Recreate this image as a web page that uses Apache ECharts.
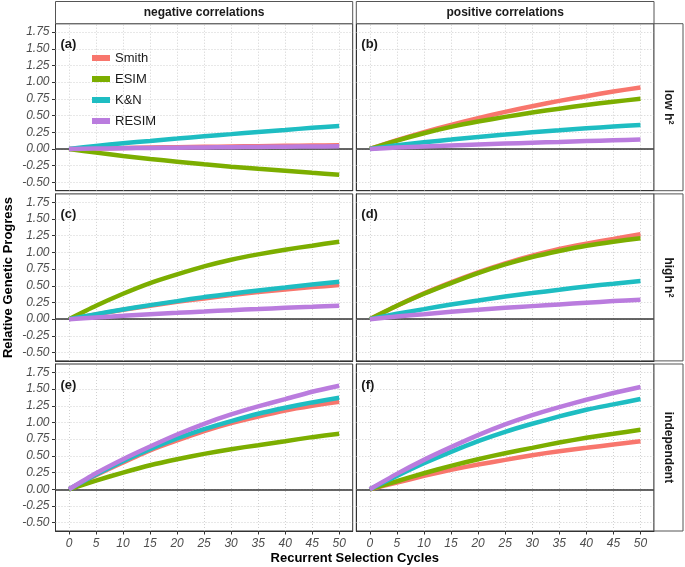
<!DOCTYPE html>
<html>
<head>
<meta charset="utf-8">
<script src="https://cdn.jsdelivr.net/npm/echarts@6/dist/echarts.min.js"></script>
<style>html,body{margin:0;padding:0;background:#fff}#c{width:685px;height:567px}</style>
</head>
<body>
<div id="c"></div>
<script>
// ---------- data ----------
const cycles = [0, 5, 10, 15, 20, 25, 30, 35, 40, 45, 50];
const methods = ['Smith', 'ESIM', 'K&N', 'RESIM'];
const colors = ['#F8766D', '#7CAE00', '#1EBDC2', '#BA7CDE'];
const panelLabels = ['(a)', '(b)', '(c)', '(d)', '(e)', '(f)'];
const colStrips = ['negative correlations', 'positive correlations'];
const rowStrips = ['low h\u00B2', 'high h\u00B2', 'independent'];
const xTicks = [0, 5, 10, 15, 20, 25, 30, 35, 40, 45, 50];
const yTicks = [-0.5, -0.25, 0, 0.25, 0.5, 0.75, 1, 1.25, 1.5, 1.75];

// (a) negative correlations, low h2
const a_smith = [0, 0.008, 0.015, 0.021, 0.027, 0.032, 0.037, 0.042, 0.047, 0.051, 0.055];
const a_esim  = [0, -0.055, -0.105, -0.15, -0.19, -0.23, -0.265, -0.297, -0.327, -0.357, -0.385];
const a_kn    = [0, 0.045, 0.085, 0.12, 0.155, 0.19, 0.222, 0.255, 0.285, 0.316, 0.345];
const a_resim = [0, 0.005, 0.01, 0.015, 0.019, 0.023, 0.027, 0.031, 0.034, 0.037, 0.04];
// (b) positive correlations, low h2
const b_smith = [0, 0.13, 0.25, 0.36, 0.46, 0.555, 0.64, 0.72, 0.79, 0.86, 0.92];
const b_esim  = [0, 0.125, 0.235, 0.33, 0.41, 0.48, 0.545, 0.603, 0.658, 0.707, 0.75];
const b_kn    = [0, 0.055, 0.1, 0.14, 0.18, 0.215, 0.25, 0.28, 0.31, 0.335, 0.36];
const b_resim = [0, 0.02, 0.035, 0.05, 0.065, 0.08, 0.093, 0.105, 0.118, 0.13, 0.14];
// (c) negative correlations, high h2
const c_smith = [0, 0.07, 0.14, 0.2, 0.26, 0.31, 0.36, 0.405, 0.445, 0.48, 0.51];
const c_esim  = [0, 0.2, 0.38, 0.54, 0.67, 0.79, 0.89, 0.97, 1.04, 1.1, 1.16];
const c_kn    = [0, 0.075, 0.145, 0.21, 0.27, 0.33, 0.38, 0.43, 0.475, 0.52, 0.56];
const c_resim = [0, 0.025, 0.05, 0.075, 0.095, 0.115, 0.135, 0.152, 0.17, 0.185, 0.2];
// (d) positive correlations, high h2
const d_smith = [0, 0.2, 0.385, 0.55, 0.7, 0.835, 0.95, 1.05, 1.13, 1.2, 1.27];
const d_esim  = [0, 0.2, 0.38, 0.54, 0.69, 0.82, 0.93, 1.02, 1.1, 1.16, 1.21];
const d_kn    = [0, 0.08, 0.15, 0.22, 0.28, 0.34, 0.39, 0.44, 0.49, 0.53, 0.57];
const d_resim = [0, 0.04, 0.075, 0.11, 0.14, 0.17, 0.195, 0.22, 0.245, 0.27, 0.29];
// (e) negative correlations, independent
const e_smith = [0, 0.21, 0.4, 0.58, 0.73, 0.87, 0.99, 1.09, 1.18, 1.25, 1.31];
const e_esim  = [0, 0.13, 0.25, 0.36, 0.45, 0.53, 0.6, 0.66, 0.72, 0.78, 0.83];
const e_kn    = [0, 0.22, 0.42, 0.6, 0.76, 0.9, 1.02, 1.13, 1.22, 1.3, 1.37];
const e_resim = [0, 0.24, 0.45, 0.64, 0.82, 0.98, 1.12, 1.24, 1.35, 1.46, 1.55];
// (f) positive correlations, independent
const f_smith = [0, 0.1, 0.2, 0.29, 0.37, 0.44, 0.51, 0.57, 0.62, 0.67, 0.72];
const f_esim  = [0, 0.12, 0.24, 0.35, 0.45, 0.54, 0.62, 0.7, 0.77, 0.83, 0.89];
const f_kn    = [0, 0.2, 0.39, 0.56, 0.72, 0.86, 0.98, 1.09, 1.19, 1.27, 1.35];
const f_resim = [0, 0.23, 0.44, 0.63, 0.81, 0.97, 1.11, 1.23, 1.34, 1.44, 1.53];

const panels = [
  [a_smith, a_esim, a_kn, a_resim],
  [b_smith, b_esim, b_kn, b_resim],
  [c_smith, c_esim, c_kn, c_resim],
  [d_smith, d_esim, d_kn, d_resim],
  [e_smith, e_esim, e_kn, e_resim],
  [f_smith, f_esim, f_kn, f_resim]
];

// ---------- layout ----------
const FONT = '"Liberation Sans", Arial, Helvetica, sans-serif';
const colLeft = [55.5, 356.3];
const colWidth = [297.2, 297.7];
const rowTop = [23.7, 193.9, 364];
const rowHeight = 167;
const stripTop = 1.5;
const rightStripX = 654, rightStripW = 29;

const grids = [], xAxes = [], yAxes = [], series = [], graphics = [];

for (let p = 0; p < 6; p++) {
  const r = Math.floor(p / 2), c = p % 2;
  grids.push({
    left: colLeft[c], top: rowTop[r], width: colWidth[c], height: rowHeight,
    show: true, borderColor: '#333', borderWidth: 1, backgroundColor: '#fff'
  });
  const bottom = r === 2, left = c === 0;
  xAxes.push({
    type: 'value', gridIndex: p, min: -2.5, max: 52.5, position: 'bottom',
    axisLine: { show: true, onZero: false, lineStyle: { color: '#333', width: 1 } },
    splitLine: { show: false },
    axisTick: { show: bottom, customValues: xTicks, length: 3.5, lineStyle: { color: '#333' } },
    axisLabel: { show: bottom, customValues: xTicks, margin: 7, fontStyle: 'italic',
      fontSize: 12, color: '#4d4d4d', fontFamily: FONT }
  });
  yAxes.push({
    type: 'value', gridIndex: p, min: -0.625, max: 1.875, position: 'left',
    axisLine: { show: true, onZero: false, lineStyle: { color: '#333', width: 1 } },
    splitLine: { show: false },
    axisTick: { show: left, customValues: yTicks, length: 3.5, lineStyle: { color: '#333' } },
    axisLabel: { show: left, customValues: yTicks, margin: 6, fontStyle: 'italic',
      fontSize: 12, color: '#4d4d4d', fontFamily: FONT,
      formatter: v => v.toFixed(2) }
  });
  // gridlines & zero line
  series.push({
    type: 'line', xAxisIndex: p, yAxisIndex: p, data: [], silent: true, z: 1,
    markLine: {
      silent: true, symbol: 'none', z: 1, animation: false,
      label: { show: false },
      lineStyle: { type: [1, 2], color: '#c4c4c4', width: 0.8 },
      data: xTicks.map(v => ({ xAxis: v })).concat(yTicks.map(v => ({ yAxis: v })))
        .concat([{ yAxis: 0, lineStyle: { type: 'solid', color: '#333', width: 1.5 } }])
    }
  });
  panels[p].forEach((vals, k) => {
    series.push({
      name: methods[k], type: 'line', xAxisIndex: p, yAxisIndex: p, z: 3,
      data: cycles.map((x, i) => [x, vals[i]]),
      showSymbol: false, symbol: 'none', smooth: 0.25,
      itemStyle: { color: colors[k] },
      lineStyle: { color: colors[k], width: 4.5 },
      animation: false
    });
  });
  graphics.push({
    type: 'text', left: colLeft[c] + 5, top: rowTop[r] + 14.5,
    style: { text: panelLabels[p], font: 'bold 13px ' + FONT, fill: '#1a1a1a' }, z: 10
  });
}

// column strips
for (let c = 0; c < 2; c++) {
  graphics.push({
    type: 'rect', shape: { x: colLeft[c], y: stripTop, width: colWidth[c], height: rowTop[0] - stripTop },
    style: { fill: '#fff', stroke: '#555', lineWidth: 1 }, z: 5
  });
  graphics.push({
    type: 'text', x: colLeft[c] + colWidth[c] / 2, y: (stripTop + rowTop[0]) / 2,
    style: { text: colStrips[c], font: 'bold 12px ' + FONT, fill: '#1a1a1a',
      textAlign: 'center', textVerticalAlign: 'middle' }, z: 6
  });
}
// row strips
for (let r = 0; r < 3; r++) {
  graphics.push({
    type: 'rect', shape: { x: rightStripX, y: rowTop[r], width: rightStripW, height: rowHeight },
    style: { fill: '#fff', stroke: '#555', lineWidth: 1 }, z: 5
  });
  graphics.push({
    type: 'text', x: rightStripX + rightStripW / 2, y: rowTop[r] + rowHeight / 2,
    rotation: -Math.PI / 2,
    style: { text: rowStrips[r], font: 'bold 12px ' + FONT, fill: '#1a1a1a',
      textAlign: 'center', textVerticalAlign: 'middle' }, z: 6
  });
}
// axis titles
graphics.push({
  type: 'text', x: 8, y: 277.5, rotation: Math.PI / 2,
  style: { text: 'Relative Genetic Progress', font: 'bold 13px ' + FONT, fill: '#000',
    textAlign: 'center', textVerticalAlign: 'middle' }
});
graphics.push({
  type: 'text', x: (colLeft[0] + colLeft[1] + colWidth[1]) / 2, y: 558,
  style: { text: 'Recurrent Selection Cycles', font: 'bold 13px ' + FONT, fill: '#000',
    textAlign: 'center', textVerticalAlign: 'middle' }
});

const chart = echarts.init(document.getElementById('c'), null, { renderer: 'canvas' });
chart.setOption({
  animation: false,
  backgroundColor: '#fff',
  textStyle: { fontFamily: FONT },
  grid: grids,
  xAxis: xAxes,
  yAxis: yAxes,
  legend: {
    data: methods, orient: 'vertical', left: 87, top: 46.5,
    icon: 'rect', itemWidth: 18, itemHeight: 6, itemGap: 8,
    textStyle: { fontSize: 13, color: '#1a1a1a', fontFamily: FONT },
    selectedMode: false, z: 10
  },
  graphic: graphics,
  series: series
});
</script>
</body>
</html>
